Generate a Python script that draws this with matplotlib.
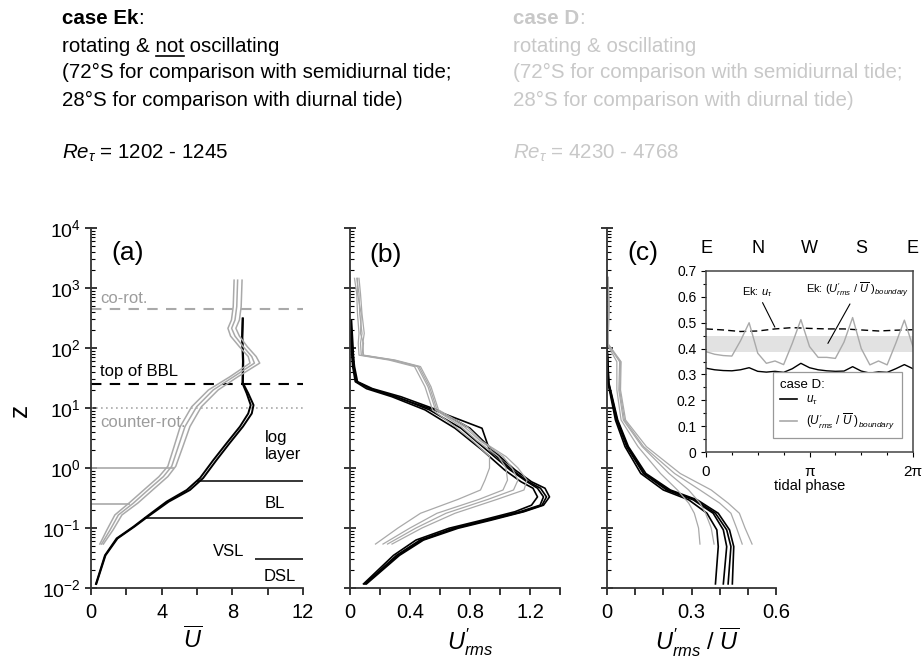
import numpy as np
import matplotlib.pyplot as plt
from matplotlib.lines import Line2D
from matplotlib.ticker import MultipleLocator, LogLocator, NullFormatter

plt.rcParams['font.family'] = ['Liberation Sans', 'DejaVu Sans']
plt.rcParams['mathtext.fontset'] = 'custom'
plt.rcParams['mathtext.rm'] = 'Liberation Sans'
plt.rcParams['mathtext.it'] = 'Liberation Sans:italic'
plt.rcParams['mathtext.bf'] = 'Liberation Sans:bold'
plt.rcParams['axes.unicode_minus'] = False

GREY = '#a9a9a9'
LIGHT = '#c8c8c8'

# ---- (a) mean velocity profiles ----
z_a_ek = [0.0117, 0.035, 0.067, 0.105, 0.155, 0.275, 0.43, 0.68, 1.35, 2.6, 4.9, 8.1, 11.2, 17.6, 26, 60, 150, 310]
u_a_ek1 = [0.28, 0.79, 1.45, 2.4, 3.15, 4.28, 5.42, 6.17, 6.92, 7.68, 8.43, 8.9, 9.04, 8.81, 8.57, 8.6, 8.55, 8.58]
u_a_ek2 = [0.3, 0.82, 1.5, 2.45, 3.22, 4.4, 5.6, 6.35, 7.1, 7.85, 8.6, 9.1, 9.2, 8.9, 8.6, 8.62, 8.57, 8.6]

z_a_d = [0.054, 0.093, 0.165, 0.26, 0.46, 0.72, 1.07, 2.27, 4.9, 10.5, 20, 33, 56, 72, 105, 158, 213, 293, 490, 1350]
u_a_d1 = [0.5, 0.9, 1.35, 2.15, 3.1, 3.85, 4.35, 4.7, 5.05, 5.7, 6.65, 7.85, 9.0, 8.9, 8.4, 7.9, 7.75, 7.95, 8.05, 8.1]
u_a_d2 = [0.6, 1.08, 1.55, 2.4, 3.34, 4.1, 4.57, 4.94, 5.32, 5.98, 6.92, 8.06, 9.25, 9.1, 8.62, 8.15, 7.96, 8.15, 8.25, 8.3]
u_a_d3 = [0.7, 1.25, 1.75, 2.65, 3.6, 4.35, 4.8, 5.2, 5.6, 6.25, 7.2, 8.3, 9.55, 9.35, 8.85, 8.4, 8.2, 8.4, 8.5, 8.55]

# layer heights in (a)
z_corot = 450
z_bbl = 25
z_counter = 10
d_layer_z = [1.0, 0.25]
d_layer_u = [4.7, 2.2]
ek_layer_z = [0.6, 0.148, 0.03]
ek_layer_u = [6.0, 3.0, 9.3]

# ---- (b) rms velocity ----
z_b_ek = [0.0117, 0.035, 0.063, 0.099, 0.135, 0.187, 0.24, 0.33, 0.46, 0.59, 0.93, 2.0, 4.6, 9.3, 15.4, 21, 27.5, 49, 105, 293]
ur_b_ek1 = [0.09, 0.29, 0.44, 0.66, 0.88, 1.10, 1.21, 1.25, 1.22, 1.14, 1.03, 0.88, 0.70, 0.50, 0.28, 0.11, 0.035, 0.018, 0.008, 0.0]
ur_b_ek2 = [0.10, 0.31, 0.467, 0.69, 0.91, 1.133, 1.267, 1.29, 1.25, 1.18, 1.067, 0.91, 0.74, 0.53, 0.31, 0.133, 0.044, 0.022, 0.011, 0.0]
ur_b_ek3 = [0.11, 0.33, 0.49, 0.72, 0.94, 1.16, 1.29, 1.33, 1.30, 1.21, 1.10, 0.95, 0.80, 0.58, 0.34, 0.15, 0.05, 0.03, 0.015, 0.005]
ur_b_ek4 = [0.10, 0.32, 0.48, 0.70, 0.92, 1.15, 1.28, 1.31, 1.27, 1.19, 1.08, 0.93, 0.88, 0.56, 0.30, 0.14, 0.04, 0.025, 0.02, 0.01]

z_b_d = [0.054, 0.1, 0.176, 0.3, 0.43, 0.63, 1.0, 1.55, 2.8, 4.9, 9.3, 22.6, 49, 63, 76, 120, 175, 370, 800, 1450]
ur_b_d1 = [0.17, 0.32, 0.47, 0.72, 0.87, 0.90, 0.93, 0.93, 0.82, 0.70, 0.55, 0.50, 0.43, 0.26, 0.06, 0.055, 0.06, 0.05, 0.045, 0.03]
ur_b_d2 = [0.22, 0.40, 0.58, 0.86, 1.02, 1.05, 1.04, 0.99, 0.85, 0.74, 0.57, 0.52, 0.45, 0.28, 0.075, 0.07, 0.08, 0.065, 0.06, 0.045]
ur_b_d3 = [0.28, 0.48, 0.70, 0.98, 1.16, 1.18, 1.12, 1.04, 0.88, 0.78, 0.59, 0.54, 0.47, 0.30, 0.09, 0.085, 0.095, 0.08, 0.07, 0.06]
ur_b_d4 = [0.25, 0.44, 0.64, 0.92, 1.09, 1.12, 1.08, 1.02, 0.87, 0.76, 0.58, 0.53, 0.46, 0.29, 0.08, 0.09, 0.07, 0.075, 0.05, 0.05]

# ---- (c) relative rms ----
z_c_ek = [0.0117, 0.049, 0.093, 0.176, 0.295, 0.43, 0.81, 2.27, 6.3, 25.7, 105, 300]
rr_c_ek1 = [0.385, 0.395, 0.39, 0.355, 0.29, 0.20, 0.12, 0.064, 0.03, 0.004, 0.0, 0.0]
rr_c_ek2 = [0.413, 0.425, 0.413, 0.377, 0.306, 0.212, 0.129, 0.07, 0.034, 0.005, 0.0, 0.0]
rr_c_ek3 = [0.445, 0.45, 0.435, 0.395, 0.32, 0.225, 0.138, 0.076, 0.038, 0.007, 0.0, 0.0]
rr_c_ek4 = [0.43, 0.44, 0.425, 0.385, 0.312, 0.218, 0.133, 0.073, 0.036, 0.006, 0.0, 0.0]

z_c_d = [0.054, 0.1, 0.176, 0.26, 0.43, 0.81, 2.27, 6.3, 20, 59, 117, 200, 500, 1500]
rr_c_d1 = [0.33, 0.325, 0.31, 0.29, 0.25, 0.19, 0.11, 0.05, 0.035, 0.035, 0.0, 0.003, 0.004, 0.002]
rr_c_d2 = [0.38, 0.37, 0.35, 0.33, 0.29, 0.22, 0.125, 0.058, 0.042, 0.045, 0.002, 0.004, 0.006, 0.003]
rr_c_d3 = [0.515, 0.49, 0.47, 0.43, 0.37, 0.26, 0.14, 0.066, 0.048, 0.05, 0.004, 0.005, 0.008, 0.004]
rr_c_d4 = [0.48, 0.46, 0.44, 0.40, 0.33, 0.24, 0.13, 0.062, 0.045, 0.048, 0.003, 0.005, 0.007, 0.004]

# ---- inset: boundary values vs tidal phase ----
phase25 = np.linspace(0, 2 * np.pi, 25)
phase13 = np.linspace(0, 2 * np.pi, 13)
d_ratio = [0.388, 0.378, 0.373, 0.371, 0.43, 0.50, 0.382, 0.343, 0.352, 0.338, 0.42, 0.512, 0.408,
           0.366, 0.366, 0.362, 0.425, 0.52, 0.40, 0.337, 0.352, 0.337, 0.42, 0.51, 0.407]
d_utau = [0.324, 0.318, 0.315, 0.314, 0.318, 0.326, 0.312, 0.309, 0.312, 0.308, 0.322, 0.343, 0.326,
          0.318, 0.314, 0.312, 0.313, 0.33, 0.313, 0.305, 0.31, 0.308, 0.322, 0.338, 0.322]
ek_utau = [0.476, 0.472, 0.466, 0.468, 0.476, 0.481, 0.478, 0.476, 0.476, 0.472, 0.468, 0.471, 0.473]
ek_ratio_band = [0.385, 0.45]
compass = ['E', 'N', 'W', 'S', 'E']
compass_phase = [0, np.pi / 2, np.pi, 3 * np.pi / 2, 2 * np.pi]

W, H = 924, 659
fig = plt.figure(figsize=(W / 100, H / 100), dpi=100)
axa = fig.add_axes([91 / W, 1 - 588 / H, 212 / W, 360 / H])
axb = fig.add_axes([350 / W, 1 - 588 / H, 210 / W, 360 / H])
axc = fig.add_axes([607 / W, 1 - 588 / H, 169 / W, 360 / H])
axi = fig.add_axes([706 / W, 1 - 452 / H, 207 / W, 181 / H])

for ax in (axa, axb, axc):
    ax.set_yscale('log')
    ax.set_ylim(1e-2, 1e4)
    for s in ('top', 'right'):
        ax.spines[s].set_visible(False)
    for s in ('left', 'bottom'):
        ax.spines[s].set_linewidth(1.3)
        ax.spines[s].set_color('#333333')
    ax.yaxis.set_major_locator(LogLocator(base=10, numticks=10))
    ax.yaxis.set_minor_locator(LogLocator(base=10, subs=np.arange(2, 10), numticks=100))
    ax.tick_params(axis='y', which='major', direction='inout', length=8, width=1.1, labelsize=14)
    ax.tick_params(axis='y', which='minor', direction='in', length=3, width=0.8)
    ax.tick_params(axis='x', which='both', direction='out', length=5, width=1.1, labelsize=14.5, pad=6)
axb.yaxis.set_major_formatter(NullFormatter())
axc.yaxis.set_major_formatter(NullFormatter())

# (a)
axa.set_xlim(0, 12)
axa.set_xticks([0, 4, 8, 12])
axa.xaxis.set_minor_locator(MultipleLocator(2))
axa.axhline(z_corot, color=GREY, ls=(0, (5, 4)), lw=1.5)
axa.axhline(z_bbl, color='black', ls=(0, (5, 4)), lw=1.5)
axa.axhline(z_counter, color=GREY, ls=(0, (1, 2)), lw=1.2)
axa.hlines(d_layer_z, 0, d_layer_u, color=GREY, lw=1.2)
axa.hlines(ek_layer_z, ek_layer_u, 12, color='black', lw=1.1)
for u in (u_a_ek1, u_a_ek2):
    axa.plot(u, z_a_ek, color='black', lw=1.4)
for u in (u_a_d1, u_a_d2, u_a_d3):
    axa.plot(u, z_a_d, color=GREY, lw=1.1)
axa.text(0.5, 680, 'co-rot.', color='#9c9c9c', fontsize=12, va='center')
axa.text(0.5, 41, 'top of BBL', color='black', fontsize=12, va='center')
axa.text(0.5, 5.8, 'counter-rot.', color='#9c9c9c', fontsize=12, va='center')
axa.text(9.85, 2.3, 'log\nlayer', fontsize=12, va='center', linespacing=1.15)
axa.text(10.4, 0.26, 'BL', fontsize=12, ha='center', va='center')
axa.text(7.8, 0.04, 'VSL', fontsize=12, ha='center', va='center')
axa.text(10.7, 0.0158, 'DSL', fontsize=12, ha='center', va='center')
axa.text(0.175, 0.93, '(a)', transform=axa.transAxes, fontsize=19, ha='center', va='center')
axa.text(0.48, -0.145, r'$\overline{U}$', transform=axa.transAxes, fontsize=17, ha='center', va='center')

# (b)
axb.set_xlim(0, 1.4)
axb.set_xticks([0, 0.4, 0.8, 1.2])
axb.set_xticklabels(['0', '0.4', '0.8', '1.2'])
axb.xaxis.set_minor_locator(MultipleLocator(0.2))
for u in (ur_b_ek1, ur_b_ek2, ur_b_ek3, ur_b_ek4):
    axb.plot(u, z_b_ek, color='black', lw=1.2)
for u in (ur_b_d1, ur_b_d2, ur_b_d3, ur_b_d4):
    axb.plot(u, z_b_d, color=GREY, lw=0.9)
axb.text(0.167, 0.925, '(b)', transform=axb.transAxes, fontsize=19, ha='center', va='center')
axb.text(0.57, -0.15, r"$U^{\prime}_{rms}$", transform=axb.transAxes, fontsize=17, ha='center', va='center')

# (c)
axc.set_xlim(0, 0.6)
axc.set_xticks([0, 0.3, 0.6])
axc.set_xticklabels(['0', '0.3', '0.6'])
axc.xaxis.set_minor_locator(MultipleLocator(0.1))
for u in (rr_c_ek1, rr_c_ek2, rr_c_ek3, rr_c_ek4):
    axc.plot(u, z_c_ek, color='black', lw=1.2)
for u in (rr_c_d1, rr_c_d2, rr_c_d3, rr_c_d4):
    axc.plot(u, z_c_d, color=GREY, lw=0.9)
axc.text(0.213, 0.93, '(c)', transform=axc.transAxes, fontsize=19, ha='center', va='center')
axc.text(0.53, -0.15, r"$U^{\prime}_{rms}\ /\ \overline{U}$", transform=axc.transAxes,
         fontsize=17, ha='center', va='center')

# inset
axi.set_xlim(0, 2 * np.pi)
axi.set_ylim(0, 0.7)
axi.axhspan(ek_ratio_band[0], ek_ratio_band[1], color='#e2e2e2', lw=0, zorder=0)
axi.plot(phase13, ek_utau, color='black', lw=1.0, ls=(0, (5, 3)))
axi.plot(phase25, d_ratio, color=GREY, lw=1.0)
axi.plot(phase25, d_utau, color='black', lw=1.0)
axi.set_xticks([0, np.pi, 2 * np.pi])
axi.set_xticklabels(['0', 'π', '2π'])
axi.xaxis.set_minor_locator(MultipleLocator(np.pi / 4))
axi.set_yticks(np.arange(0, 0.71, 0.1))
axi.set_yticklabels(['0', '0.1', '0.2', '0.3', '0.4', '0.5', '0.6', '0.7'])
axi.yaxis.set_minor_locator(MultipleLocator(0.05))
axi.tick_params(axis='both', which='both', direction='out', width=0.8)
axi.tick_params(axis='both', which='major', length=3.5, labelsize=10)
axi.tick_params(axis='both', which='minor', length=2)
axi.tick_params(axis='x', pad=6, labelsize=11)
for s in axi.spines.values():
    s.set_linewidth(1.1)
    s.set_color('#444444')
axi.set_xlabel('tidal phase', fontsize=10.5, labelpad=0)
for lab, ph in zip(compass, compass_phase):
    axi.text(ph, 1.127, lab, transform=axi.get_xaxis_transform(), fontsize=13, ha='center', va='center')
axi.annotate(r'Ek: $u_{\tau}$', xy=(2.09, 0.483), xytext=(1.55, 0.62), fontsize=8, ha='center', va='center',
             arrowprops=dict(arrowstyle='-', lw=0.8, color='black', shrinkA=1, shrinkB=0))
axi.annotate(r'Ek: $(U^{\prime}_{rms}\ /\ \overline{U}\ )_{boundary}$', xy=(3.7, 0.42), xytext=(4.6, 0.625),
             fontsize=8, ha='center', va='center',
             arrowprops=dict(arrowstyle='-', lw=0.8, color='black', shrinkA=1, shrinkB=0))
handles = [Line2D([], [], color='black', lw=1.2), Line2D([], [], color=GREY, lw=1.2)]
leg = axi.legend(handles, [r'$u_{\tau}$', r'$(U^{\prime}_{rms}\ /\ \overline{U}\ )_{boundary}$'],
                 title='case D:', loc='lower right', bbox_to_anchor=(0.975, 0.045), fontsize=8.5,
                 title_fontsize=9.5, frameon=True, fancybox=False, edgecolor='#999999', framealpha=1,
                 handlelength=1.4, borderpad=0.6, labelspacing=0.3, alignment='left')
leg.get_frame().set_linewidth(0.9)

# z label
fig.text(20 / W, 1 - 410 / H, 'z', rotation=90, fontsize=19, ha='center', va='center')

# header text
HSIZE = 14.8
renderer = fig.canvas.get_renderer()


def text_w(s, **kw):
    t = fig.text(0.5, 0.5, s, fontsize=HSIZE, **kw)
    w = t.get_window_extent(renderer).width / fig.bbox.width
    t.remove()
    return w


space = text_w('a a') - text_w('aa')
baselines = [1 - b / H for b in (24.5, 51.5, 78.5, 105.5, 159)]
for x0, name, line2, re_txt, col in ((62 / W, 'case Ek', 'rotating & not oscillating', r'$Re_{\tau}$ = 1202 - 1245', 'black'),
                                    (513 / W, 'case D', 'rotating & oscillating', r'$Re_{\tau}$ = 4230 - 4768', LIGHT)):
    fig.text(x0, baselines[0], name, fontsize=HSIZE, weight='bold', color=col, va='baseline')
    fig.text(x0 + text_w(name, weight='bold'), baselines[0], ':', fontsize=HSIZE, color=col, va='baseline')
    fig.text(x0, baselines[1], line2, fontsize=HSIZE, color=col, va='baseline')
    fig.text(x0, baselines[2], '(72°S for comparison with semidiurnal tide;', fontsize=HSIZE, color=col, va='baseline')
    fig.text(x0, baselines[3], '28°S for comparison with diurnal tide)', fontsize=HSIZE, color=col, va='baseline')
    fig.text(x0, baselines[4], re_txt, fontsize=HSIZE, color=col, va='baseline')

u0 = 62 / W + text_w('rotating &') + space
u1 = u0 + text_w('not')
fig.add_artist(Line2D([u0, u1], [baselines[1] - 4.5 / H] * 2, color='black', lw=1.2, transform=fig.transFigure))

fig.savefig('out.png', dpi=100)
